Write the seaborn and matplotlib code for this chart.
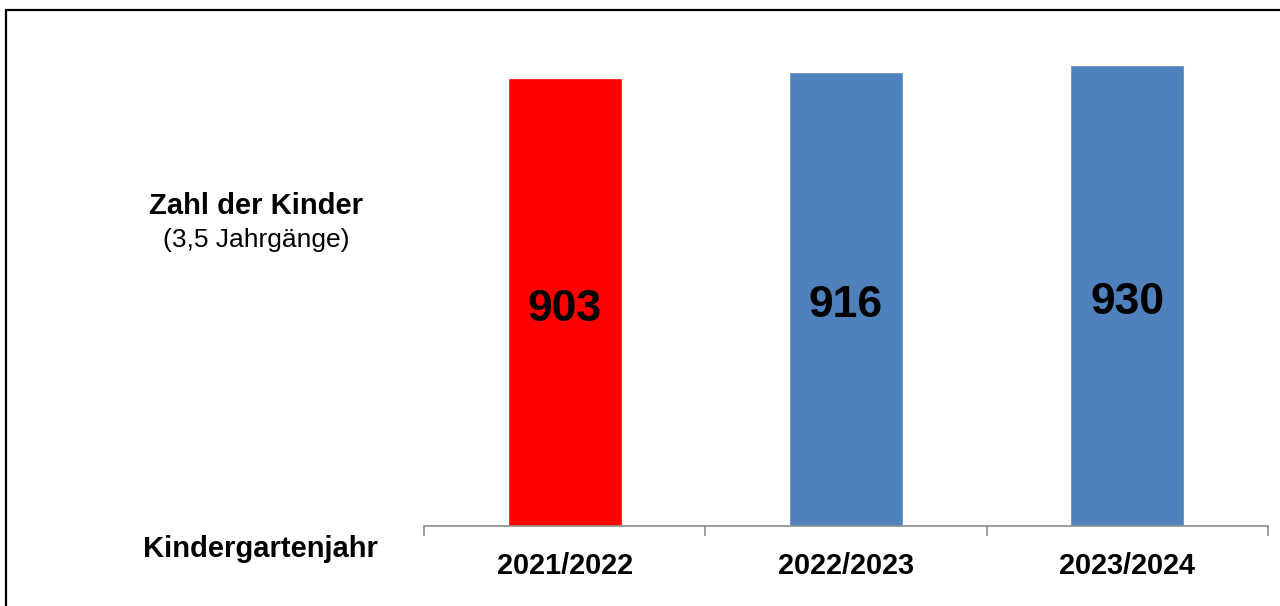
import matplotlib
matplotlib.use('Agg')
import matplotlib.pyplot as plt
import seaborn as sns
from matplotlib.patches import Rectangle

# Data
years = ['2021/2022', '2022/2023', '2023/2024']
kinder = [903, 916, 930]
bar_colors = ['#FF0000', '#4F81BD', '#4F81BD']

sns.set_style('white')
plt.rcParams['font.family'] = ['Liberation Sans', 'DejaVu Sans']
plt.rcParams['text.color'] = 'black'
plt.rcParams['xtick.color'] = 'black'

fig = plt.figure(figsize=(12.8, 6.06), dpi=100)
ax = fig.add_axes([424 / 1280, 80 / 606, 844 / 1280, 496 / 606])

sns.barplot(x=years, y=kinder, hue=years, palette=bar_colors, width=0.405,
            legend=False, saturation=1, ax=ax)

ax.set_xlim(-0.5, 2.5)
ax.set_ylim(0, 1000)
ax.set_yticks([])
ax.set_ylabel('')

# value labels in the middle of each bar (nudged a bit down)
for cont in ax.containers:
    labels = ax.bar_label(cont, label_type='center', fontsize=32,
                          fontweight='bold', color='black')
    for lab in labels:
        lab.xyann = (0, -5)

# ticks between categories, labels under categories
ax.set_xticks([-0.5, 0.5, 1.5, 2.5])
ax.set_xticklabels([])
ax.set_xticks([0, 1, 2], minor=True)
ax.set_xticklabels(years, minor=True, fontsize=20.8, fontweight='bold',
                   color='black')
ax.tick_params(axis='x', which='major', length=7, width=1.2, color='#8c8c8c',
               direction='out', bottom=True)
ax.tick_params(axis='x', which='minor', length=0, pad=19)

for s in ['top', 'right', 'left']:
    ax.spines[s].set_visible(False)
ax.spines['bottom'].set_color('#8c8c8c')
ax.spines['bottom'].set_linewidth(1.2)

# left-hand captions
fig.text(256 / 1280, 1 - 206 / 606, 'Zahl der Kinder', ha='center', va='center',
         fontsize=21, fontweight='bold')
fig.text(256 / 1280, 1 - 240 / 606, '(3,5 Jahrgänge)', ha='center', va='center',
         fontsize=19)
fig.text(260 / 1280, 1 - 549 / 606, 'Kindergartenjahr', ha='center', va='center',
         fontsize=21, fontweight='bold')

# frame around the chart (cut off at right and bottom)
fig.patches.append(Rectangle((6 / 1280, -0.2), 1.2, 1.2 - 10 / 606,
                             transform=fig.transFigure, fill=False,
                             edgecolor='black', linewidth=1.6))

fig.savefig('out.png', dpi=100)
